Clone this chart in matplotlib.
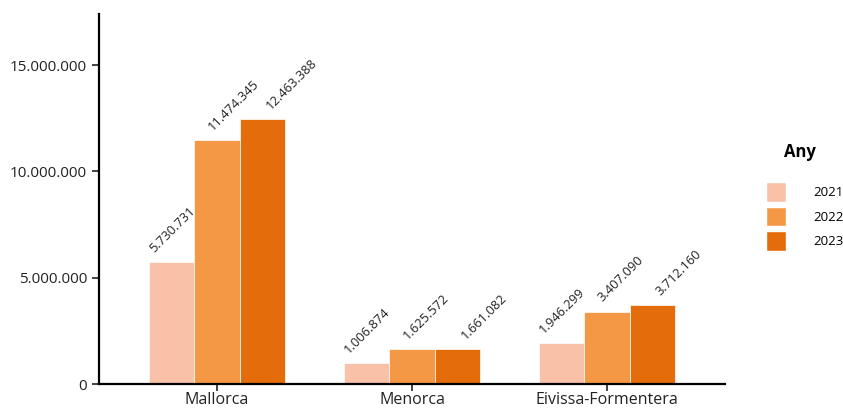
import numpy as np
import matplotlib
import matplotlib.pyplot as plt
from matplotlib.patches import Patch
from matplotlib.ticker import FuncFormatter

plt.rcParams['font.family'] = ['Open Sans', 'DejaVu Sans']

illes = ['Mallorca', 'Menorca', 'Eivissa-Formentera']
anys = ['2021', '2022', '2023']
v2021 = [5730731, 1006874, 1946299]
v2022 = [11474345, 1625572, 3407090]
v2023 = [12463388, 1661082, 3712160]
colors = ['#F9C2A8', '#F59846', '#E46C0A']


def fmt(v):
  return f'{int(v):,}'.replace(',', '.')


fig = plt.figure(figsize=(8.43, 4.08), dpi=100)
ax = fig.add_axes([99/843, 24/408, 626/843, 370/408])

x = np.arange(len(illes))
w = 0.7 / 3
for k, (vals, c) in enumerate(zip([v2021, v2022, v2023], colors)):
  pos = x + (k - 1) * w
  ax.bar(pos, vals, width=w, color=c, edgecolor='white', linewidth=0.5, zorder=2)
  # labels dodged wider than the bars (0.9 vs 0.7)
  tpos = x + (k - 1) * 0.3
  for p, v in zip(tpos, vals):
    ax.annotate(fmt(v), (p, v), xytext=(-1.8, 5), textcoords='offset points',
                rotation=45, rotation_mode='anchor', ha='left', va='bottom',
                fontsize=9.3, color='#222222')

ax.set_xlim(-0.605, 2.605)
ax.set_ylim(0, 17.4e6)
ax.set_xticks(x)
ax.set_xticklabels(illes, fontsize=11.5)
ax.set_yticks([0, 5e6, 10e6, 15e6])
ax.yaxis.set_major_formatter(FuncFormatter(lambda v, p: fmt(v)))
ax.tick_params(axis='y', labelsize=11.0, length=5, width=1.2, colors='#222222')
ax.tick_params(axis='x', length=5, width=1.2, colors='#222222', pad=1)
for s in ['top', 'right']:
  ax.spines[s].set_visible(False)
for s in ['left', 'bottom']:
  ax.spines[s].set_linewidth(1.6)

fig.text(800/843, 1 - 152/408, 'Any', ha='center', va='center', fontsize=12, fontweight='bold')
handles = [Patch(facecolor=c, edgecolor='white') for c in colors]
leg = fig.legend(handles, anys, loc='upper left', bbox_to_anchor=(766/843, 1 - 182/408),
                 frameon=False, fontsize=9.5, handlelength=1.52, handleheight=1.9,
                 handletextpad=2.1, labelspacing=0.38, borderpad=0, borderaxespad=0)

plt.savefig('out.png')
